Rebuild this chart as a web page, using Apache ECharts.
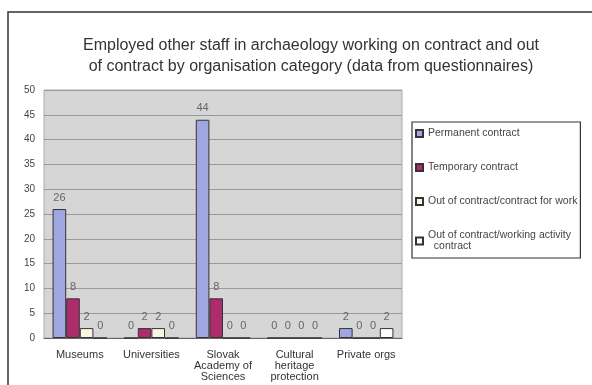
<!DOCTYPE html>
<html>
<head>
<meta charset="utf-8">
<script src="https://cdn.jsdelivr.net/npm/echarts@6/dist/echarts.min.js"></script>
<style>html,body{margin:0;padding:0;background:#fff;}#c{width:592px;height:385px;}</style>
</head>
<body>
<div id="c"></div>
<script>
var categories = ['Museums', 'Universities', 'Slovak Academy of Sciences', 'Cultural heritage protection', 'Private orgs'];
var categoryLabels = ['Museums', 'Universities', 'Slovak\nAcademy of\nSciences', 'Cultural\nheritage\nprotection', 'Private orgs'];
var seriesNames = ['Permanent contract', 'Temporary contract', 'Out of contract/contract for work', 'Out of contract/working activity contract'];
var permanent = [26, 0, 44, 0, 2];
var temporary = [8, 2, 8, 0, 0];
var contractForWork = [2, 2, 0, 0, 0];
var workingActivity = [0, 0, 0, 0, 2];
var yTicks = [0, 5, 10, 15, 20, 25, 30, 35, 40, 45, 50];

var colors = ['#9fa6e2', '#ad2c6c', '#fbf6e2', '#ffffff'];
var values = [permanent, temporary, contractForWork, workingActivity];

var chart = echarts.init(document.getElementById('c'), null, {renderer: 'canvas'});
var series = seriesNames.map(function (n, i) {
  return {
    name: n,
    type: 'bar',
    data: values[i],
    barGap: '0%',
    barCategoryGap: '24%',
    itemStyle: {color: colors[i], borderColor: '#333', borderWidth: 1},
    label: {show: true, position: 'top', color: '#666', fontSize: 11, fontFamily: 'Liberation Sans', distance: 6}
  };
});

chart.setOption({
  animation: false,
  backgroundColor: '#fff',
  title: {
    text: 'Employed other staff in archaeology working on contract and out\nof contract by organisation category (data from questionnaires)',
    left: 306, top: 30, textAlign: 'center',
    textStyle: {fontFamily: 'Liberation Sans', fontSize: 16, fontWeight: 'normal', color: '#333', lineHeight: 21}
  },
  graphic: [{
    type: 'rect', shape: {x: 8, y: 12, width: 600, height: 400},
    style: {fill: 'none', stroke: '#333', lineWidth: 1.5}, silent: true, z: -1
  }],
  legend: {
    orient: 'vertical', left: 412, top: 122, width: 171, height: 133,
    data: seriesNames,
    icon: 'rect', itemWidth: 7, itemHeight: 7, itemGap: 23,
    borderColor: '#333', borderWidth: 1.2, padding: [6, 3, 6, 3],
    textStyle: {fontFamily: 'Liberation Sans', fontSize: 10.5, color: '#444', lineHeight: 11},
    formatter: function (n) { return n === seriesNames[3] ? 'Out of contract/working activity\n  contract' : n; }
  },
  grid: {left: 44, top: 90, right: 190, bottom: 47, show: true, backgroundColor: '#d6d6d6', borderColor: '#aaa', borderWidth: 1},
  xAxis: {
    type: 'category', data: categories,
    axisLine: {lineStyle: {color: '#666'}},
    axisTick: {show: false},
    axisLabel: {
      interval: 0, margin: 11, fontFamily: 'Liberation Sans', fontSize: 11, color: '#333', lineHeight: 11,
      formatter: function (v, i) { return categoryLabels[i]; }
    }
  },
  yAxis: {
    type: 'value', min: yTicks[0], max: yTicks[yTicks.length - 1], interval: 5,
    axisLine: {show: false}, axisTick: {show: false},
    axisLabel: {fontFamily: 'Liberation Sans', fontSize: 10, color: '#444', margin: 9},
    splitLine: {lineStyle: {color: '#9a9a9a', width: 1}}
  },
  series: series
});
</script>
</body>
</html>
